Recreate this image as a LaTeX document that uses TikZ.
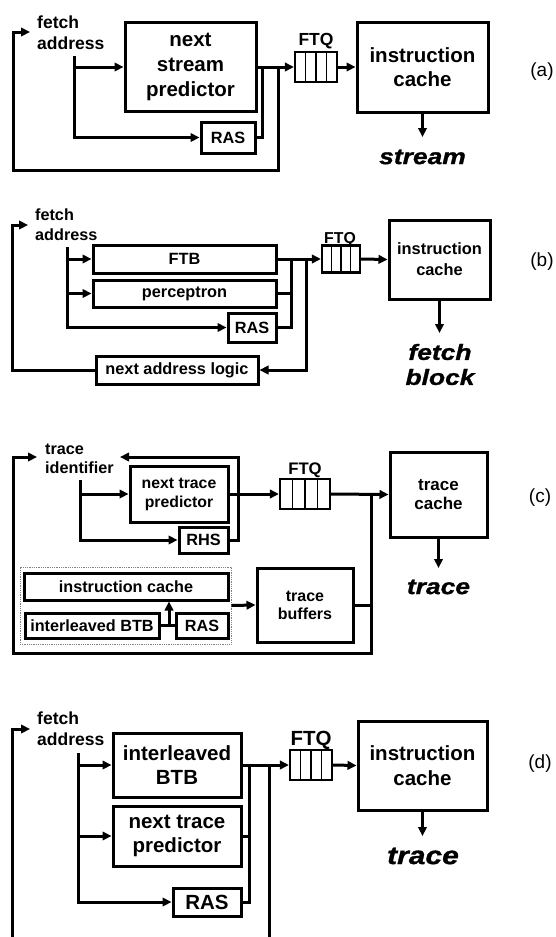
\documentclass[tikz,border=0pt]{standalone}
\usepackage{fontspec}
\setmainfont{Liberation Sans}
\newfontfamily\heavyfam{Liberation Sans}[FakeStretch=1.2,FakeBold=1.2]
\usetikzlibrary{arrows.meta,calc}
\tikzset{
  ln/.style={line width=3pt},
  arr/.style={ln,-{Triangle[length=9pt,width=8.5pt]}},
  blk/.style={draw,line width=3pt,inner sep=0pt,align=center},
  fb/.style={font=\bfseries\fontsize{#1}{\dimexpr #1pt*6/5\relax}\selectfont},
  fbs/.style={font=\bfseries\fontsize{#1}{\dimexpr #1pt*112/100\relax}\selectfont},
  txt/.style={inner sep=0pt,align=left,anchor=west},
  heavy/.style={align=center,inner sep=0pt,font=\heavyfam\bfseries\itshape\fontsize{#1}{25}\selectfont},
  lab/.style={inner sep=0pt,font=\fontsize{19}{22}\selectfont},
  ftq/.style={draw,line width=2.2pt,inner sep=0pt,
    path picture={\foreach \k in {1,2,3}{\draw[line width=1.8pt]
      ($(path picture bounding box.south west)!\k/4!(path picture bounding box.south east)$) --
      ($(path picture bounding box.north west)!\k/4!(path picture bounding box.north east)$);}}},
}
\begin{document}
\begin{tikzpicture}[x=1pt,y=-1pt]
\useasboundingbox (0,0) rectangle (556,937);
% ---------------- (a)
\node[txt,font=\bfseries\fontsize{17.5}{21}\selectfont] (fa) at (37,32.5) {fetch\\address};
\node[blk,fb=20.5,minimum width=131pt,minimum height=89pt] (nsp) at (190.5,67) {next\\stream\\predictor};
\node[blk,fb=16.3,minimum width=54pt,minimum height=31pt] (rasA) at (228,137.5) {RAS};
\node[ftq,minimum width=42pt,minimum height=30pt] (ftqA) at (316,67) {};
\node[fb=17.5] (ftqAl) at (316,41) {FTQ};
\node[blk,fb=20.5,minimum width=131pt,minimum height=90pt] (icA) at (422.5,67) {instruction\\cache};
\node[heavy=22] (stA) at (422.5,157) {stream};
\node[lab] (la) at (542,72) {(a)};
\coordinate (sA) at (74,56);
\coordinate (jA1) at (262,67);
\coordinate (jA2) at (278,67);
\coordinate (cA) at (13,170);
\coordinate (tA) at (30,32);
\coordinate (oA) at (422.5,137);
\draw[arr] (sA) |- (rasA.west);
\draw[arr] (sA |- nsp.west) -- (nsp.west);
\draw[ln] (rasA.east) -| (jA1);
\draw[arr] (nsp.east) -- (ftqA.west);
\draw[arr] (ftqA.east) -- (icA.west);
\draw[arr] (jA2) |- (cA) |- (tA);
\draw[arr] (icA.south) -- (oA);
% ---------------- (b)
\node[txt,font=\bfseries\fontsize{16.2}{20}\selectfont] (fbt) at (35,225) {fetch\\address};
\node[blk,fb=16.3,minimum width=183pt,minimum height=28pt] (ftb) at (184.5,259) {FTB};
\node[blk,fb=16.3,minimum width=183pt,minimum height=27pt] (per) at (184.5,293.5) {perceptron};
\node[blk,fb=16.3,minimum width=48pt,minimum height=29pt] (rasB) at (252,327.5) {RAS};
\node[blk,fb=16.3,minimum width=162pt,minimum height=28pt] (nal) at (177,370) {next address logic};
\node[ftq,minimum width=38pt,minimum height=27pt] (ftqB) at (341,259) {};
\node[fb=15.8] (ftqBl) at (340,240) {FTQ};
\node[blk,font=\bfseries\fontsize{16.4}{21}\selectfont,minimum width=101pt,minimum height=79pt] (icB) at (439.5,259.5) {instruction\\cache};
\node[heavy=22] (fbk) at (440,364.5) {fetch\\block};
\node[lab] (lb) at (542,262) {(b)};
\coordinate (sB) at (67,247);
\coordinate (jB1) at (291,259);
\coordinate (jB2) at (306,259);
\coordinate (cB) at (12,225);
\coordinate (tB) at (28,225);
\coordinate (oB) at (439.5,333);
\draw[arr] (sB) |- (rasB.west);
\draw[arr] (sB |- ftb.west) -- (ftb.west);
\draw[arr] (sB |- per.west) -- (per.west);
\draw[ln] (rasB.east) -| (jB1);
\draw[ln] (per.east) -- (per.east -| jB1);
\draw[arr] (ftb.east) -- (ftqB.west);
\draw[arr] (ftqB.east) -- (icB.west);
\draw[arr] (jB2) |- (nal.east);
\draw[arr] (nal.west) -| (cB) -- (tB);
\draw[arr] (icB.south) -- (oB);
% ---------------- (c)
\node[txt,font=\bfseries\fontsize{16.2}{19}\selectfont] (tid) at (45,458.5) {trace\\identifier};
\node[blk,fb=15.8,minimum width=98pt,minimum height=56pt] (ntpC) at (179,494) {next trace\\predictor};
\node[blk,fb=16.3,minimum width=49pt,minimum height=26pt] (rhs) at (203.5,540) {RHS};
\node[ftq,minimum width=50pt,minimum height=30pt] (ftqC) at (305,494) {};
\node[fb=16.7] (ftqCl) at (305,470) {FTQ};
\node[blk,fbs=17,minimum width=97pt,minimum height=85pt] (tc) at (438.5,494.5) {trace\\cache};
\node[heavy=22] (trC) at (438.5,587) {trace};
\node[lab] (lc) at (540,498) {(c)};
\node[blk,fbs=16,minimum width=96pt,minimum height=74pt] (tb) at (305,605) {trace\\buffers};
\node[draw=gray,densely dotted,line width=0.8pt,inner sep=0pt,minimum width=211pt,minimum height=77pt] (dbox) at (125.5,605.5) {};
\node[blk,fb=16.2,minimum width=204pt,minimum height=27pt] (icC) at (126,586.5) {instruction cache};
\node[blk,fb=16.2,minimum width=134pt,minimum height=25pt] (btb) at (92,625.5) {interleaved BTB};
\node[blk,fb=16.2,minimum width=52pt,minimum height=25pt] (rasC) at (202,625.5) {RAS};
\coordinate (sC) at (80,480);
\coordinate (rC) at (238,457);
\coordinate (tC2) at (120,457);
\coordinate (jC) at (169,625.5);
\coordinate (jC2) at (371,494);
\coordinate (cC) at (13,653);
\coordinate (tC) at (37,457);
\coordinate (oC) at (438.5,568);
\draw[arr] (sC) |- (rhs.west);
\draw[arr] (sC |- ntpC.west) -- (ntpC.west);
\draw[arr] (rhs.east) -| (rC) -- (tC2);
\draw[arr] (ntpC.east) -- (ftqC.west);
\draw[arr] (ftqC.east) -- (tc.west);
\draw[ln] (btb.east) -- (rasC.west);
\draw[arr] (jC) -- (jC |- icC.south);
\draw[arr] (dbox.east) -- (tb.west);
\draw[ln] (tb.east) -- (tb.east -| jC2);
\draw[arr] (jC2) |- (cC) |- (tC);
\draw[arr] (tc.south) -- (oC);
% ---------------- (d)
\node[txt,font=\bfseries\fontsize{17.5}{21}\selectfont] (fd) at (37,728.5) {fetch\\address};
\node[blk,fb=20.5,minimum width=128pt,minimum height=64pt] (ibtb) at (177,765) {interleaved\\BTB};
\node[blk,fb=20.5,minimum width=128pt,minimum height=60pt] (ntpD) at (177,836) {next trace\\predictor};
\node[blk,fb=20.5,minimum width=68pt,minimum height=28pt] (rasD) at (207,902) {RAS};
\node[ftq,minimum width=42pt,minimum height=30pt] (ftqD) at (311,765) {};
\node[fb=20.5] (ftqDl) at (311,740) {FTQ};
\node[blk,fb=20.5,minimum width=129pt,minimum height=89pt] (icD) at (422.5,765.5) {instruction\\cache};
\node[heavy=25] (trD) at (423,856) {trace};
\node[lab] (ld) at (540,764) {(d)};
\coordinate (sD) at (78,753);
\coordinate (jD1) at (249,765);
\coordinate (jD2) at (269,765);
\coordinate (eD2) at (269,945);
\coordinate (eD) at (12,945);
\coordinate (tD) at (30,729);
\coordinate (oD) at (422.5,836);
\draw[arr] (sD) |- (rasD.west);
\draw[arr] (sD |- ibtb.west) -- (ibtb.west);
\draw[arr] (sD |- ntpD.west) -- (ntpD.west);
\draw[ln] (rasD.east) -| (jD1);
\draw[ln] (ntpD.east) -- (ntpD.east -| jD1);
\draw[arr] (ibtb.east) -- (ftqD.west);
\draw[arr] (ftqD.east) -- (icD.west);
\draw[ln] (jD2) -- (eD2);
\draw[arr] (eD) |- (tD);
\draw[arr] (icD.south) -- (oD);
\end{tikzpicture}
\end{document}
